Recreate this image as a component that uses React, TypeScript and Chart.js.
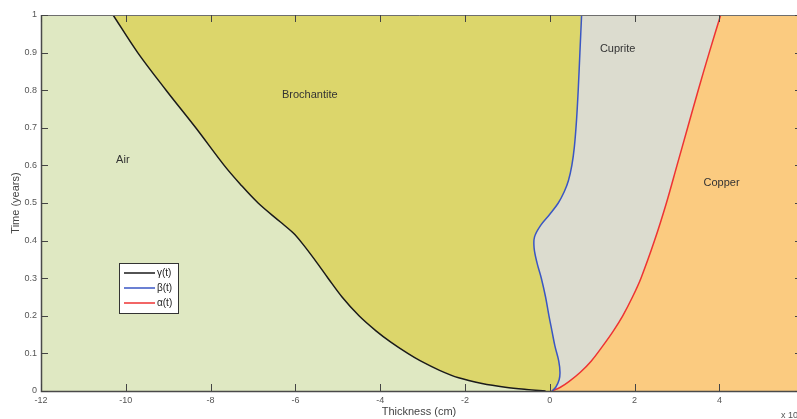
import { useEffect, useRef } from 'react';
import { Chart, registerables } from 'chart.js';

Chart.register(...registerables);

// gamma(t): air / brochantite interface
const gammaT = [0, 0.004, 0.01, 0.02, 0.035, 0.055, 0.08, 0.1, 0.13, 0.16, 0.2, 0.25, 0.3, 0.35, 0.39, 0.42, 0.45, 0.5, 0.55, 0.6, 0.7, 0.8, 0.9, 1];
const gammaX = [-0.1, -0.55, -1.05, -1.6, -2.15, -2.6, -3.05, -3.35, -3.75, -4.1, -4.5, -4.9, -5.23, -5.55, -5.82, -6.05, -6.36, -6.88, -7.3, -7.68, -8.35, -9.05, -9.72, -10.3];

// beta(t): brochantite / cuprite interface
const betaT = [0, 0.01, 0.03, 0.05, 0.08, 0.12, 0.16, 0.2, 0.25, 0.3, 0.34, 0.38, 0.41, 0.44, 0.47, 0.5, 0.53, 0.56, 0.6, 0.65, 0.72, 0.8, 0.9, 1];
const betaX = [0.05, 0.14, 0.22, 0.24, 0.21, 0.12, 0.05, -0.02, -0.1, -0.2, -0.3, -0.37, -0.36, -0.22, 0.0, 0.2, 0.34, 0.44, 0.52, 0.58, 0.63, 0.67, 0.71, 0.75];

// alpha(t): cuprite / copper interface
const alphaT = [0, 0.01, 0.025, 0.05, 0.08, 0.12, 0.16, 0.2, 0.25, 0.3, 0.4, 0.5, 0.6, 0.7, 0.8, 0.9, 1];
const alphaX = [0.05, 0.25, 0.45, 0.72, 0.98, 1.25, 1.5, 1.72, 1.95, 2.15, 2.47, 2.75, 3.0, 3.25, 3.5, 3.76, 4.03];

const seriesLabels = ['γ(t)', 'β(t)', 'α(t)'];
const seriesColors = ['#1a1a1a', '#3a56c4', '#ee3333'];

const regionNames = ['Air', 'Brochantite', 'Cuprite', 'Copper'];
const regionX = [-10.07, -5.66, 1.6, 4.05];
const regionT = [0.614, 0.787, 0.91, 0.553];

const X_MIN = -12;
const X_MAX = 5.83;
const X_STEP = 2;
const Y_MIN = 0;
const Y_MAX = 1;
const Y_STEP = 0.1;

const FONT = "'Liberation Sans', Arial, sans-serif";
const COLORS = {
  air: '#dfe8c2',
  brochantite: '#dcd66b',
  cuprite: '#dcdccf',
  copper: '#fbcb80',
};

function toPoints(ts: number[], xs: number[]) {
  return ts.map((t, i) => ({ x: xs[i], y: t }));
}

type P = { x: number; y: number; cp1x?: number; cp1y?: number; cp2x?: number; cp2y?: number };

function traceForward(ctx: CanvasRenderingContext2D, pts: P[], move: boolean) {
  pts.forEach((p, i) => {
    if (i === 0) {
      if (move) ctx.moveTo(p.x, p.y);
      else ctx.lineTo(p.x, p.y);
      return;
    }
    const q = pts[i - 1];
    if (q.cp2x !== undefined && p.cp1x !== undefined) {
      ctx.bezierCurveTo(q.cp2x, q.cp2y as number, p.cp1x, p.cp1y as number, p.x, p.y);
    } else {
      ctx.lineTo(p.x, p.y);
    }
  });
}

function traceBackward(ctx: CanvasRenderingContext2D, pts: P[]) {
  for (let i = pts.length - 1; i >= 0; i--) {
    const p = pts[i];
    if (i === pts.length - 1) {
      ctx.lineTo(p.x, p.y);
      continue;
    }
    const q = pts[i + 1];
    if (q.cp1x !== undefined && p.cp2x !== undefined) {
      ctx.bezierCurveTo(q.cp1x, q.cp1y as number, p.cp2x, p.cp2y as number, p.x, p.y);
    } else {
      ctx.lineTo(p.x, p.y);
    }
  }
}

const regionsPlugin = {
  id: 'regions',
  beforeDatasetsDraw(chart: any) {
    const { ctx, chartArea: a } = chart;
    const g = chart.getDatasetMeta(0).data as P[];
    const b = chart.getDatasetMeta(1).data as P[];
    const al = chart.getDatasetMeta(2).data as P[];
    ctx.save();
    ctx.beginPath();
    ctx.rect(a.left, a.top, a.right - a.left, a.bottom - a.top);
    ctx.clip();
    ctx.fillStyle = COLORS.cuprite;
    ctx.fillRect(a.left, a.top, a.right - a.left, a.bottom - a.top);
    ctx.beginPath();
    traceForward(ctx, g, true);
    traceBackward(ctx, b);
    ctx.closePath();
    ctx.fillStyle = COLORS.brochantite;
    ctx.fill();
    ctx.beginPath();
    ctx.moveTo(a.left, a.bottom + 2);
    ctx.lineTo(g[0].x, a.bottom + 2);
    traceForward(ctx, g, false);
    ctx.lineTo(g[g.length - 1].x, a.top - 2);
    ctx.lineTo(a.left, a.top - 2);
    ctx.closePath();
    ctx.fillStyle = COLORS.air;
    ctx.fill();
    ctx.beginPath();
    ctx.moveTo(al[0].x, a.bottom + 2);
    traceForward(ctx, al, false);
    ctx.lineTo(al[al.length - 1].x, a.top - 2);
    ctx.lineTo(a.right + 2, a.top - 2);
    ctx.lineTo(a.right + 2, a.bottom + 2);
    ctx.closePath();
    ctx.fillStyle = COLORS.copper;
    ctx.fill();
    ctx.restore();
  },
  afterDraw(chart: any) {
    const { ctx, chartArea: a } = chart;
    const xs = chart.scales.x;
    const ys = chart.scales.y;
    ctx.save();
    ctx.strokeStyle = '#6e6e6e';
    ctx.lineWidth = 1;
    ctx.beginPath();
    ctx.moveTo(a.left + 0.5, a.top + 0.5);
    ctx.lineTo(a.right, a.top + 0.5);
    ctx.stroke();
    ctx.strokeStyle = '#4a4a4a';
    ctx.lineWidth = 1.5;
    ctx.beginPath();
    ctx.moveTo(a.left + 0.5, a.top);
    ctx.lineTo(a.left + 0.5, a.bottom + 0.5);
    ctx.lineTo(a.right, a.bottom + 0.5);
    ctx.stroke();
    const tl = 7;
    ctx.strokeStyle = '#444';
    ctx.lineWidth = 1;
    ctx.beginPath();
    xs.ticks.forEach((t: any) => {
      const px = Math.round(xs.getPixelForValue(t.value)) + 0.5;
      ctx.moveTo(px, a.bottom);
      ctx.lineTo(px, a.bottom - tl);
      ctx.moveTo(px, a.top);
      ctx.lineTo(px, a.top + tl);
    });
    ys.ticks.forEach((t: any) => {
      const py = Math.round(ys.getPixelForValue(t.value)) + 0.5;
      ctx.moveTo(a.left, py);
      ctx.lineTo(a.left + tl, py);
      ctx.moveTo(a.right, py);
      ctx.lineTo(a.right - 2, py);
    });
    ctx.stroke();
    ctx.fillStyle = '#333';
    ctx.font = `11px ${FONT}`;
    ctx.textAlign = 'center';
    ctx.textBaseline = 'middle';
    regionNames.forEach((n, i) => {
      ctx.fillText(n, xs.getPixelForValue(regionX[i]), ys.getPixelForValue(regionT[i]));
    });
    const lx = 119, ly = 263, lw = 59, lh = 50;
    ctx.fillStyle = '#ffffff';
    ctx.fillRect(lx, ly, lw, lh);
    ctx.strokeStyle = '#333';
    ctx.lineWidth = 1;
    ctx.strokeRect(lx + 0.5, ly + 0.5, lw, lh);
    ctx.font = `10px ${FONT}`;
    ctx.textAlign = 'left';
    ctx.textBaseline = 'middle';
    seriesLabels.forEach((lab, i) => {
      const yy = ly + 10 + i * 15;
      ctx.strokeStyle = seriesColors[i];
      ctx.lineWidth = 1.5;
      ctx.beginPath();
      ctx.moveTo(lx + 5, yy);
      ctx.lineTo(lx + 36, yy);
      ctx.stroke();
      ctx.fillStyle = '#222';
      ctx.fillText(lab, lx + 38, yy);
    });
    ctx.fillStyle = '#555';
    ctx.font = `9px ${FONT}`;
    ctx.textAlign = 'left';
    ctx.textBaseline = 'middle';
    ctx.fillText('x 10', 781, 416);
    ctx.restore();
  },
};

export default function App() {
  const ref = useRef<HTMLCanvasElement | null>(null);
  useEffect(() => {
    if (!ref.current) return;
    const mk = (label: string, data: any[], color: string) => ({
      label,
      data,
      borderColor: color,
      backgroundColor: color,
      borderWidth: 1.5,
      pointRadius: 0,
      tension: 0.35,
      fill: false,
    });
    const chart = new Chart(ref.current, {
      type: 'line',
      data: {
        datasets: [
          mk(seriesLabels[0], toPoints(gammaT, gammaX), seriesColors[0]),
          mk(seriesLabels[1], toPoints(betaT, betaX), seriesColors[1]),
          mk(seriesLabels[2], toPoints(alphaT, alphaX), seriesColors[2]),
        ],
      },
      options: {
        animation: false,
        responsive: false,
        devicePixelRatio: 1,
        layout: { padding: { top: 15, right: 0, left: 0, bottom: 0 } },
        plugins: { legend: { display: false }, tooltip: { enabled: false } },
        scales: {
          x: {
            type: 'linear',
            min: X_MIN,
            max: X_MAX,
            ticks: {
              stepSize: X_STEP,
              includeBounds: false,
              color: '#555',
              font: { size: 9, family: FONT },
              padding: 4,
              maxRotation: 0,
            },
            grid: { display: false, drawTicks: false },
            border: { display: false },
            title: {
              display: true,
              text: 'Thickness (cm)',
              color: '#444',
              font: { size: 11, family: FONT },
              padding: { top: 0, bottom: 0 },
            },
            afterFit: (s: any) => {
              s.height = 28;
            },
          },
          y: {
            type: 'linear',
            min: Y_MIN,
            max: Y_MAX,
            ticks: {
              stepSize: Y_STEP,
              color: '#555',
              font: { size: 9, family: FONT },
              padding: 4,
              callback: (v: any) => String(Number(Number(v).toFixed(1))),
            },
            grid: { display: false, drawTicks: false },
            border: { display: false },
            title: {
              display: true,
              text: 'Time (years)',
              color: '#444',
              font: { size: 11, family: FONT },
              padding: { top: 9, bottom: 0 },
            },
            afterFit: (s: any) => {
              s.width = 41;
            },
          },
        },
      } as any,
      plugins: [regionsPlugin],
    });
    return () => chart.destroy();
  }, []);
  return (
    <div style={{ position: 'fixed', left: 0, top: 0, width: 797, height: 419, background: '#fff' }}>
      <canvas ref={ref} width={797} height={419} style={{ display: 'block' }} />
    </div>
  );
}
